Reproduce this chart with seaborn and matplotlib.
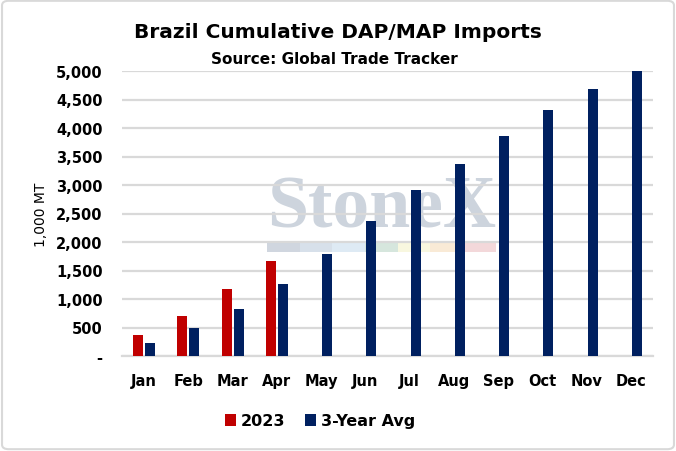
import pandas as pd
import numpy as np
import matplotlib
matplotlib.use('Agg')
import matplotlib.pyplot as plt
from matplotlib.patches import FancyBboxPatch, Rectangle
import seaborn as sns

RED = '#C00000'; NAVY = '#002060'; GRID = '#D9D9D9'

months = ['Jan', 'Feb', 'Mar', 'Apr', 'May', 'Jun', 'Jul', 'Aug', 'Sep', 'Oct', 'Nov', 'Dec']
imports_2023 = [375, 710, 1180, 1670, np.nan, np.nan, np.nan, np.nan, np.nan, np.nan, np.nan, np.nan]
avg_3yr = [235, 500, 830, 1265, 1790, 2370, 2910, 3370, 3860, 4315, 4685, 5000]
series = ['2023', '3-Year Avg']

df = pd.DataFrame({
    'month': months * 2,
    'value': imports_2023 + avg_3yr,
    'series': [series[0]] * 12 + [series[1]] * 12,
})

sns.set_style('white')
plt.rcParams['font.family'] = ['DejaVu Sans']
plt.rcParams['text.color'] = 'black'
plt.rcParams['xtick.color'] = 'black'
plt.rcParams['ytick.color'] = 'black'
plt.rcParams['axes.labelcolor'] = 'black'

fig = plt.figure(figsize=(6.76, 4.52), dpi=100)
ax = fig.add_axes([122 / 676, 1 - 357 / 452, 531 / 676, 285 / 452])

# ── watermark ──────────────────────────────────────────────────────────────
ax.text(0.273, 0.453, 'StoneX', transform=ax.transAxes, ha='left', va='baseline',
        family='Liberation Serif', fontsize=53, fontweight='bold', color='#cdd4dd', zorder=0)
stripe = ['#d0d6df', '#d7e0ea', '#deeaf4', '#d6e6dd', '#f8f7df', '#f9eAd6', '#f3d8da']
for i, c in enumerate(stripe):
    ax.add_patch(Rectangle((0.273 + i * 0.0615, 0.365), 0.0615, 0.031, transform=ax.transAxes,
                           color=c, lw=0, zorder=0))

sns.barplot(data=df, x='month', y='value', hue='series', palette=[RED, NAVY],
            width=0.54, gap=0.15, saturation=1, linewidth=0, ax=ax, zorder=3, legend=True)

ax.set_ylim(0, 5000)
ax.set_yticks(range(0, 5001, 500))
ax.set_yticklabels(['-'] + [f'{v:,}' for v in range(500, 5001, 500)])
ax.yaxis.grid(True, color=GRID, lw=1.6, zorder=1)
for sp in ['top', 'right', 'left']:
    ax.spines[sp].set_visible(False)
ax.spines['bottom'].set_color(GRID)
ax.spines['bottom'].set_linewidth(1.6)
ax.tick_params(axis='both', length=0, labelsize=10.5)
ax.tick_params(axis='x', pad=12)
ax.tick_params(axis='y', pad=14)
for lab in ax.get_xticklabels() + ax.get_yticklabels():
    lab.set_fontweight('bold')
ax.set_xlabel('')
ax.set_ylabel('1,000 MT', fontsize=10, labelpad=6)

h, l = ax.get_legend_handles_labels()
ax.legend(h, l, loc='center', bbox_to_anchor=(320 / 676, 1 - 422 / 452), bbox_transform=fig.transFigure,
          ncol=2, frameon=False, handlelength=0.7, handleheight=0.7, handletextpad=0.3,
          columnspacing=1.2, prop={'size': 11.5, 'weight': 'bold'})

fig.text(338 / 676, 1 - 32 / 452, 'Brazil Cumulative DAP/MAP Imports', ha='center', va='center',
         fontsize=14.5, fontweight='bold')
fig.text(334 / 676, 1 - 60 / 452, 'Source: Global Trade Tracker', ha='center', va='center',
         fontsize=11, fontweight='bold')

fig.patches.append(FancyBboxPatch((0.003, 0.004), 0.994, 0.992, boxstyle='round,pad=0,rounding_size=0.01',
                                  transform=fig.transFigure, fill=False, ec='#D9D9D9', lw=1.5))

plt.savefig('out.png', dpi=100, facecolor='white')
